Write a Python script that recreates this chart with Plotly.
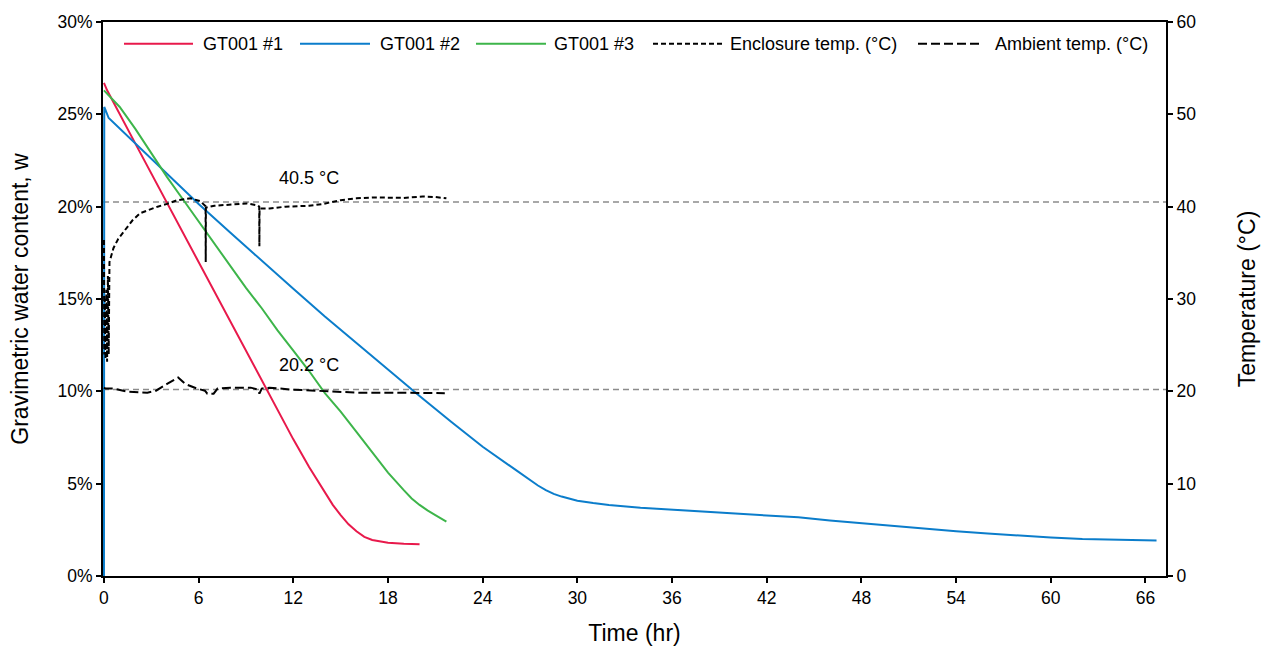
import plotly.graph_objects as go

# Gravimetric water content (%) vs time (hr) for three GT001 specimens
t_gt1 = [0, 0.2, 2, 4, 6, 8, 10, 12, 13, 13.5, 14, 14.5, 15, 15.5, 16, 16.5, 17, 17.5, 18, 19, 20]
w_gt1 = [26.7, 26.3, 23.4, 20.2, 17.0, 13.8, 10.6, 7.4, 5.9, 5.2, 4.5, 3.85, 3.3, 2.8, 2.42,
         2.12, 1.95, 1.86, 1.8, 1.75, 1.72]

t_gt2 = [0, 0.02, 0.3, 2, 4, 6, 8, 10, 12, 14, 16, 18, 20, 22, 24, 26, 27, 27.5, 28, 28.5,
         29, 29.5, 30, 31, 32, 34, 36, 38, 40, 42, 43.5, 44, 46, 48, 50, 52, 54, 56, 58, 60,
         62, 64, 66, 66.7]
w_gt2 = [0, 25.4, 24.8, 23.4, 21.75, 20.15, 18.6, 17.05, 15.55, 14.05, 12.6, 11.15, 9.75,
         8.35, 7.0, 5.8, 5.2, 4.9, 4.65, 4.45, 4.3, 4.17, 4.08, 3.95, 3.85, 3.7, 3.58, 3.47,
         3.38, 3.28, 3.22, 3.18, 3.0, 2.85, 2.7, 2.55, 2.42, 2.3, 2.18, 2.08, 2.0, 1.95,
         1.92, 1.92]

t_gt3 = [0, 1, 2, 3, 4, 5, 6, 7, 8, 9, 10, 11, 12, 13, 14, 15, 16, 17, 18, 19, 19.5, 20,
         20.5, 21, 21.7]
w_gt3 = [26.3, 25.4, 24.2, 22.9, 21.6, 20.4, 19.2, 18.0, 16.8, 15.6, 14.5, 13.3, 12.2, 11.1,
         9.9, 8.9, 7.8, 6.7, 5.6, 4.65, 4.2, 3.85, 3.55, 3.3, 2.95]

# Temperatures (°C) on the secondary axis
t_encl = [0, 0.02, 0.05, 0.1, 0.15, 0.2, 0.25, 0.3, 0.35, 0.45, 0.6, 0.9, 1.25, 1.8, 2.3,
          3.0, 3.4, 4.0, 4.65, 5.5, 6.1, 6.44, 6.45, 6.46, 7.0, 8.0, 9.06, 9.7, 9.84, 9.85,
          9.86, 10.5, 11.5, 13.0, 13.9, 15.0, 16.0, 17.0, 18.1, 19.0, 20.2, 21.0, 21.7]
T_encl = [36.4, 24.0, 30.0, 23.5, 31.0, 23.2, 32.5, 24.0, 34.0, 34.6, 35.5, 36.5, 37.3,
          38.5, 39.3, 39.8, 40.0, 40.3, 40.7, 40.9, 40.6, 40.05, 34.0, 39.9, 40.1, 40.25,
          40.35, 40.15, 40.0, 35.7, 39.8, 39.8, 40.0, 40.1, 40.3, 40.7, 40.9, 41.0, 41.0,
          40.95, 41.1, 41.05, 40.9]

t_amb = [0, 0.1, 0.6, 1.5, 2.75, 3.3, 4.0, 4.7, 5.15, 5.9, 6.4, 6.55, 6.95, 7.2, 8.0, 9.3,
         9.75, 9.85, 10.0, 10.5, 11.8, 13.9, 16.0, 18.1, 20.2, 21.6]
T_amb = [20.4, 20.3, 20.3, 19.96, 19.86, 20.07, 20.8, 21.5, 20.8, 20.3, 20.07, 19.75, 19.75,
         20.3, 20.4, 20.4, 20.2, 19.75, 20.3, 20.4, 20.2, 20.0, 19.86, 19.86, 19.8, 19.8]

# Reference temperature levels
ref_levels = [40.5, 20.2]
ref_labels = ["40.5 °C", "20.2 °C"]
ref_label_t = 13.0

x_ticks = list(range(0, 67, 6))
y_ticks = [0, 5, 10, 15, 20, 25, 30]
y_tick_text = [f"{v}%" for v in y_ticks]
y2_ticks = [0, 10, 20, 30, 40, 50, 60]

FONT = "Liberation Sans, Arial, sans-serif"
RED, BLUE, GREEN = "#E8194B", "#0B7DCB", "#3DB54A"

series = [
    dict(name="GT001 #1", x=t_gt1, y=w_gt1, color=RED, dash="solid", axis="y"),
    dict(name="GT001 #2", x=t_gt2, y=w_gt2, color=BLUE, dash="solid", axis="y"),
    dict(name="GT001 #3", x=t_gt3, y=w_gt3, color=GREEN, dash="solid", axis="y"),
    dict(name="Enclosure temp. (°C)", x=t_encl, y=T_encl, color="black", dash="5px,3px", axis="y2"),
    dict(name="Ambient temp. (°C)", x=t_amb, y=T_amb, color="black", dash="9px,4px", axis="y2"),
]

fig = go.Figure()
for s in series:
    fig.add_trace(go.Scatter(
        x=s["x"], y=s["y"], name=s["name"], mode="lines", yaxis=s["axis"],
        line=dict(color=s["color"], width=2, dash=s["dash"]), showlegend=False,
    ))

# Dashed grey reference levels with labels
for lvl, lab in zip(ref_levels, ref_labels):
    fig.add_shape(type="line", xref="paper", x0=0, x1=1, yref="y2", y0=lvl, y1=lvl,
                  line=dict(color="#8c8c8c", width=1.5, dash="6px,4px"), layer="below")
    fig.add_annotation(x=ref_label_t, y=lvl, yref="y2", xref="x", text=lab, showarrow=False,
                       yshift=24, font=dict(family=FONT, size=18, color="black"))

# Legend row drawn along the top of the plot area
W, H = 1063.0, 562.0
legend_pos = [(124, 193, 201), (300, 370, 378), (476, 546, 552), (653, 723, 728), (918, 983, 993)]
ly = (578 - 38) / H
for s, (a, b, tx) in zip(series, legend_pos):
    fig.add_shape(type="line", xref="paper", yref="paper",
                  x0=(a - 103) / W, x1=(b - 103) / W, y0=ly, y1=ly,
                  line=dict(color=s["color"], width=2, dash=s["dash"]))
    fig.add_annotation(xref="paper", yref="paper", x=(tx - 103) / W, y=ly, text=s["name"],
                       xanchor="left", yanchor="middle", showarrow=False,
                       font=dict(family=FONT, size=18, color="black"))

axis_common = dict(showline=True, linecolor="black", linewidth=2, ticks="outside",
                   ticklen=5, tickwidth=1.5, tickcolor="black", showgrid=False,
                   zeroline=False, tickfont=dict(family=FONT, size=17.5, color="black"),
                   layer="below traces")

fig.update_layout(
    width=1275, height=654,
    margin=dict(l=103, r=109, t=16, b=76),
    paper_bgcolor="white", plot_bgcolor="white",
    font=dict(family=FONT, color="black"),
    xaxis=dict(range=[-0.06, 67.3], tickvals=x_ticks, mirror=True,
               title=dict(text="Time (hr)", font=dict(family=FONT, size=23), standoff=18),
               **axis_common),
    yaxis=dict(range=[0, 30], tickmode="array", tickvals=y_ticks, ticktext=y_tick_text,
               title=dict(text="Gravimetric water content, w", font=dict(family=FONT, size=23),
                          standoff=22),
               **axis_common),
    yaxis2=dict(range=[0, 60], tickvals=y2_ticks, overlaying="y", side="right",
                title=dict(text="Temperature (°C)", font=dict(family=FONT, size=23),
                           standoff=44),
                **axis_common),
    showlegend=False,
)

fig.write_html("out.html")
